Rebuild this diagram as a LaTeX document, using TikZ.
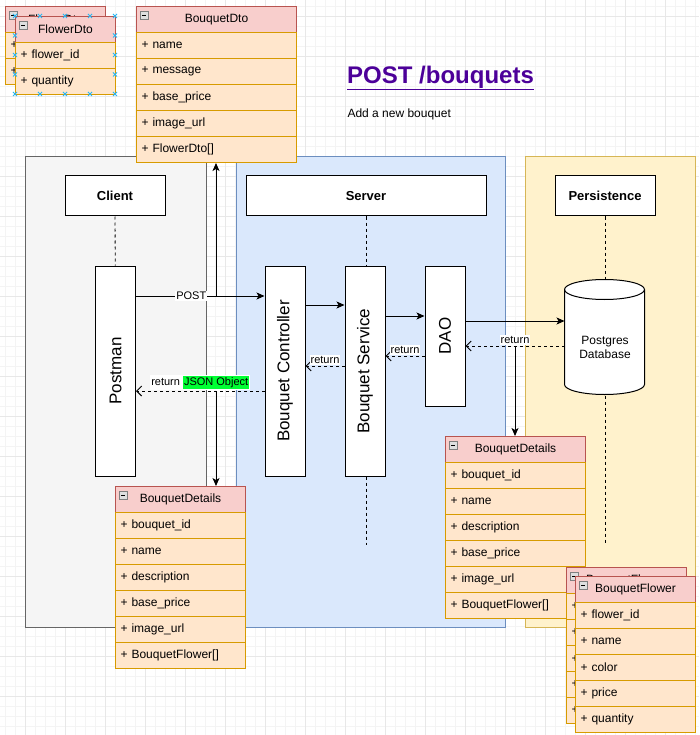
\documentclass[tikz,border=0pt]{standalone}
\usepackage{fontspec}
\setmainfont{Liberation Sans}
\usepackage{xcolor}
\usepackage{graphicx}
\usepackage{tikz}
\usetikzlibrary{arrows.meta,calc,positioning}

\definecolor{gridminor}{HTML}{F4F4F4}
\definecolor{gridmajor}{HTML}{E8E8E8}
\definecolor{clientfill}{HTML}{F5F5F5}
\definecolor{clientline}{HTML}{666666}
\definecolor{serverfill}{HTML}{DAE8FC}
\definecolor{serverline}{HTML}{6C8EBF}
\definecolor{persistfill}{HTML}{FFF2CC}
\definecolor{persistline}{HTML}{D6B656}
\definecolor{headfill}{HTML}{F8CECC}
\definecolor{headline}{HTML}{B85450}
\definecolor{rowfill}{HTML}{FFE6CC}
\definecolor{rowline}{HTML}{D79B00}
\definecolor{titlecol}{HTML}{4C0099}
\definecolor{jsongreen}{HTML}{00FF33}
\definecolor{handleblue}{HTML}{29B6F2}

% uml class: name, top left corner, width, title, rows
\newcommand{\umlclass}[5]{%
  \pgfmathsetmacro{\rowtw}{#3-10}
  \node[classhead,minimum width=#3pt] (#1) at (#2) {#4};
  \draw[fill=gray!25,draw=gray,line width=0.8pt] ([shift={(4,5)}]#1.north west) rectangle ++(8,8);
  \draw[line width=0.8pt] ([shift={(6,9)}]#1.north west) -- ++(4,0);
  \foreach \txt [count=\i] in {#5} {
    \node[classrow,text width=\rowtw pt] (#1-\i) at ($(#2)+(0,26*\i)$) {+ \txt};
  }
}

\begin{document}
\begin{tikzpicture}[
  x=1pt, y=-1pt,
  line width=1pt,
  lane/.style={rectangle,draw,anchor=north west,minimum height=471pt},
  headbox/.style={rectangle,draw,fill=white,minimum width=100pt,minimum height=40pt,font=\fontsize{13}{15}\selectfont\bfseries},
  lifebox/.style={rectangle,draw,fill=white,minimum width=40pt,inner sep=0pt,font=\fontsize{17}{20}\selectfont},
  lifeline/.style={dash pattern=on 3pt off 3pt,line width=0.8pt},
  arrow/.style={-{Stealth[length=8pt,width=7pt,inset=2pt]}},
  retarrow/.style={dash pattern=on 3pt off 3pt,-{Straight Barb[length=5pt,width=10pt]}},
  edgelabel/.style={fill=white,inner sep=1pt,font=\fontsize{11}{13}\selectfont},
  classhead/.style={rectangle,draw=headline,fill=headfill,anchor=north west,minimum height=26pt,inner sep=0pt,font=\fontsize{12}{14}\selectfont},
  classrow/.style={rectangle,draw=rowline,fill=rowfill,anchor=north west,minimum height=26pt,inner xsep=5pt,inner ysep=0pt,align=left,font=\fontsize{12}{14}\selectfont},
  handle/.style={draw=handleblue,line width=0.8pt}
]
  \useasboundingbox[fill=white] (0,0) rectangle (699,735);

  % canvas grid
  \foreach \gx in {5,15,...,695} \draw[gridminor,line width=0.6pt] (\gx,0) -- (\gx,735);
  \foreach \gy in {6,16,...,726} \draw[gridminor,line width=0.6pt] (0,\gy) -- (699,\gy);
  \foreach \gx in {25,65,...,665} \draw[gridmajor,line width=0.6pt] (\gx,0) -- (\gx,735);
  \foreach \gy in {16,56,...,696} \draw[gridmajor,line width=0.6pt] (0,\gy) -- (699,\gy);

  % lanes
  \node[lane,draw=clientline,fill=clientfill,minimum width=181pt] (clientlane) at (25,156) {};
  \node[lane,draw=serverline,fill=serverfill,minimum width=269pt] (serverlane) at (236,156) {};
  \node[lane,draw=persistline,fill=persistfill,minimum width=170pt] (persistlane) at (525,156) {};

  \node[headbox] (clienthead) at (115,196) {Client};
  \node[headbox,minimum width=240pt] (serverhead) at (366,196) {Server};
  \node[headbox] (persisthead) at (605,196) {Persistence};

  % participants
  \node[lifebox,minimum height=210pt] (postman) at (115.5,371) {\rotatebox{90}{Postman}};
  \node[lifebox,minimum height=210pt] (controller) at (285,371) {\rotatebox{90}{Bouquet Controller}};
  \node[lifebox,minimum height=210pt] (service) at (365,371) {\rotatebox{90}{Bouquet Service}};
  \node[lifebox,minimum height=140pt] (dao) at (445,336) {\rotatebox{90}{DAO}};
  \node[minimum width=80pt,minimum height=115pt,inner sep=0pt] (db) at (605,337.5) {};
  \draw[fill=white] (db.north west) ++(0,10) -- ++(0,95)
    arc[start angle=180,end angle=360,x radius=40pt,y radius=10pt] -- ++(0,-95)
    arc[start angle=0,end angle=180,x radius=40pt,y radius=10pt] -- cycle;
  \draw ([yshift=-10pt]db.north west) arc[start angle=180,end angle=360,x radius=40pt,y radius=10pt];
  \node[align=center,font=\fontsize{12}{14}\selectfont] (dbname) at ([yshift=-10pt]db.center) {Postgres\\Database};

  \coordinate (serverend) at (366,545);
  \coordinate (persistend) at (605,545);
  \draw[lifeline] (clienthead) -- (postman);
  \draw[lifeline] (serverhead.south) -- (serverhead.south |- service.north);
  \draw[lifeline] (serverhead.south |- service.south) -- (serverend);
  \draw[lifeline] (persisthead) -- (db.north);
  \draw[lifeline] (db.south) -- (persistend);

  % calls
  \draw[arrow] (postman.east |- 0,296) -- node[edgelabel,pos=0.43] {POST} (controller.west |- 0,296);
  \draw[arrow] (controller.east |- 0,305) -- (service.west |- 0,305);
  \draw[arrow] (service.east |- 0,316) -- (dao.west |- 0,316);
  \draw[arrow] (dao.east |- 0,321) -- (db.west |- 0,321);

  % returns
  \draw[retarrow] (db.west |- 0,346) -- node[edgelabel,above=1pt] {return} (dao.east |- 0,346);
  \draw[retarrow] (dao.west |- 0,356) -- node[edgelabel,above=1pt] {return} (service.east |- 0,356);
  \draw[retarrow] (service.west |- 0,366) -- node[edgelabel,above=1pt] {return} (controller.east |- 0,366);
  \draw[retarrow] (controller.west |- 0,391) -- node[edgelabel,above=1pt]
    {return {\setlength{\fboxsep}{1pt}\colorbox{jsongreen}{JSON Object}}} (postman.east |- 0,391);

  % data objects
  \umlclass{dto}{136,6}{160}{BouquetDto}{name,message,base\_price,image\_url,FlowerDto[]}
  \umlclass{flowerback}{5,6}{100}{FlowerDto}{flower\_id,quantity}
  \umlclass{flowerdto}{15,16}{100}{FlowerDto}{flower\_id,quantity}
  \umlclass{detl}{115,486}{130}{BouquetDetails}{bouquet\_id,name,description,base\_price,image\_url,BouquetFlower[]}
  \umlclass{detr}{445,436}{140}{BouquetDetails}{bouquet\_id,name,description,base\_price,image\_url,BouquetFlower[]}
  \umlclass{bflowerback}{566,567}{120}{BouquetFlower}{flower\_id,name,color,price,quantity}
  \umlclass{bflower}{575,576}{120}{BouquetFlower}{flower\_id,name,color,price,quantity}

  \coordinate (dtofork) at (216,296);
  \coordinate (detlfork) at (216,391);
  \coordinate (detrfork) at (515,346);
  \draw[arrow] (dtofork) -- (dtofork |- dto-5.south);
  \draw[arrow] (detlfork) -- (detlfork |- detl.north);
  \draw[arrow] (detrfork) -- (detrfork |- detr.north);

  % selection handles
  \foreach \hx in {15,40,65,90,115}
    \foreach \hy in {16,94}
      \draw[handle] (\hx,\hy) +(-2,-2) -- +(2,2) +(-2,2) -- +(2,-2);
  \foreach \hx in {15,115}
    \foreach \hy in {35.5,55,74.5}
      \draw[handle] (\hx,\hy) +(-2,-2) -- +(2,2) +(-2,2) -- +(2,-2);

  % title
  \node[font=\fontsize{24}{28}\selectfont\bfseries,text=titlecol] (title) at (440.5,78) {\underline{POST /bouquets}};
  \node[anchor=west,inner sep=0pt,font=\fontsize{12}{14}\selectfont] (subtitle) at (347,114) {Add a new bouquet};
\end{tikzpicture}
\end{document}
